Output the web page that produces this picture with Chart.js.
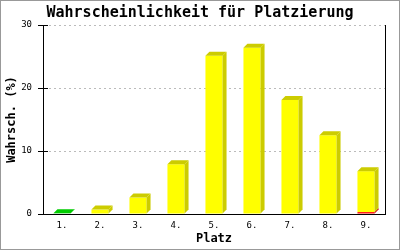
<!DOCTYPE html>
<html>
<head>
<meta charset="utf-8">
<script src="https://cdn.jsdelivr.net/npm/chart.js@4/dist/chart.umd.min.js"></script>
<style>
  html, body { margin: 0; padding: 0; background: #fff; }
  canvas { display: block; }
</style>
</head>
<body>
<canvas id="c" width="400" height="250"></canvas>
<script>
const chartTitle = 'Wahrscheinlichkeit für Platzierung';
const xTitle = 'Platz';
const yTitle = 'Wahrsch. (%)';
const categories = ['1.', '2.', '3.', '4.', '5.', '6.', '7.', '8.', '9.'];
const greenValues  = [0.1, 0, 0, 0, 0, 0, 0, 0, 0];
const redValues    = [0, 0, 0, 0, 0, 0, 0, 0, 0.3];
const yellowValues = [0, 0.7, 2.6, 7.9, 25.1, 26.4, 18.1, 12.5, 6.5];
const yMin = 0, yMax = 30, yStep = 10;

const MONO = "'DejaVu Sans Mono', 'Liberation Mono', monospace";
const DEPTH = 4;

const frameAndBars3D = {
  id: 'frameAndBars3D',
  beforeDraw(chart) {
    const ctx = chart.ctx;
    ctx.save();
    ctx.fillStyle = '#fff';
    ctx.fillRect(0, 0, chart.width, chart.height);
    ctx.restore();
  },
  afterDatasetsDraw(chart) {
    const ctx = chart.ctx;
    const sets = chart.data.datasets;
    ctx.save();
    for (let di = 0; di < sets.length; di++) {
      const meta = chart.getDatasetMeta(di);
      const ds = sets[di];
      meta.data.forEach((bar, i) => {
        const v = ds.data[i];
        if (!v) return;
        let topmost = true;
        for (let k = di + 1; k < sets.length; k++) if (sets[k].data[i]) topmost = false;
        const p = bar.getProps(['x', 'y', 'base', 'width'], true);
        const l = p.x - p.width / 2, r = p.x + p.width / 2;
        const top = Math.min(p.y, p.base), bot = Math.max(p.y, p.base);
        ctx.fillStyle = ds.sideColor;
        ctx.beginPath();
        ctx.moveTo(r, top);
        ctx.lineTo(r + DEPTH, top - DEPTH);
        ctx.lineTo(r + DEPTH, bot - DEPTH);
        ctx.lineTo(r, bot);
        ctx.closePath();
        ctx.fill();
        if (topmost) {
          ctx.fillStyle = ds.topColor;
          ctx.beginPath();
          ctx.moveTo(l, top);
          ctx.lineTo(l + DEPTH, top - DEPTH);
          ctx.lineTo(r + DEPTH, top - DEPTH);
          ctx.lineTo(r, top);
          ctx.closePath();
          ctx.fill();
        }
      });
    }
    ctx.restore();
  },
  afterDraw(chart) {
    const ctx = chart.ctx;
    const ys = chart.scales.y;
    ctx.save();
    ctx.strokeStyle = '#000';
    ctx.lineWidth = 1;
    ys.ticks.forEach(t => {
      const py = Math.round(ys.getPixelForValue(t.value)) + 0.5;
      ctx.beginPath();
      ctx.moveTo(chart.chartArea.left, py);
      ctx.lineTo(chart.chartArea.left + 5, py);
      ctx.stroke();
    });
    ctx.strokeStyle = '#999';
    ctx.strokeRect(0.5, 0.5, chart.width - 1, chart.height - 1);
    ctx.restore();
  }
};

new Chart(document.getElementById('c'), {
  type: 'bar',
  data: {
    labels: categories,
    datasets: [
      { label: 'green', data: greenValues, backgroundColor: '#00cc00', sideColor: '#00aa00', topColor: '#00cc00' },
      { label: 'red', data: redValues, backgroundColor: '#ff0000', sideColor: '#cc0000', topColor: '#cc0000' },
      { label: 'yellow', data: yellowValues, backgroundColor: '#ffff00', sideColor: '#cccc00', topColor: '#cccc00' }
    ]
  },
  options: {
    responsive: false,
    animation: false,
    devicePixelRatio: 1,
    layout: { padding: { left: 0, right: 0, top: 0, bottom: 0 } },
    datasets: { bar: { categoryPercentage: 1, barPercentage: 0.45, borderWidth: 0 } },
    plugins: {
      legend: { display: false },
      tooltip: { enabled: false },
      title: {
        display: true,
        text: chartTitle,
        color: '#000',
        font: { family: MONO, size: 15, weight: 'bold' },
        padding: { top: 4, bottom: 3 }
      }
    },
    scales: {
      x: {
        stacked: true,
        grid: { display: false, drawTicks: false },
        border: { display: true, color: '#000', width: 1 },
        ticks: { color: '#000', font: { family: MONO, size: 9 }, padding: 6, maxRotation: 0 },
        title: { display: true, text: xTitle, color: '#000', font: { family: MONO, size: 12, weight: 'bold' }, padding: { top: 0, bottom: 4 } },
        afterFit(s) { s.height = 36; }
      },
      y: {
        stacked: true,
        min: yMin, max: yMax,
        grid: {
          color: ctx => ctx.tick && ctx.tick.value === 0 ? 'rgba(0,0,0,0)' : '#bbbbbb',
          drawTicks: true, tickLength: 5, tickColor: '#000', tickBorderDash: [], tickWidth: 1
        },
        border: { display: true, color: '#000', width: 1, dash: [2, 3] },
        ticks: { stepSize: yStep, color: '#000', font: { family: MONO, size: 9 }, padding: 6 },
        title: { display: true, text: yTitle, color: '#000', font: { family: MONO, size: 12, weight: 'bold' }, padding: { top: 5, bottom: 0 } },
        afterFit(s) { s.width = 43; }
      },
      y2: {
        position: 'right',
        min: yMin, max: yMax,
        grid: { display: false, drawTicks: false },
        border: { display: true, color: '#000', width: 1 },
        ticks: { display: false },
        afterFit(s) { s.width = 15; }
      }
    }
  },
  plugins: [frameAndBars3D]
});
</script>
</body>
</html>
